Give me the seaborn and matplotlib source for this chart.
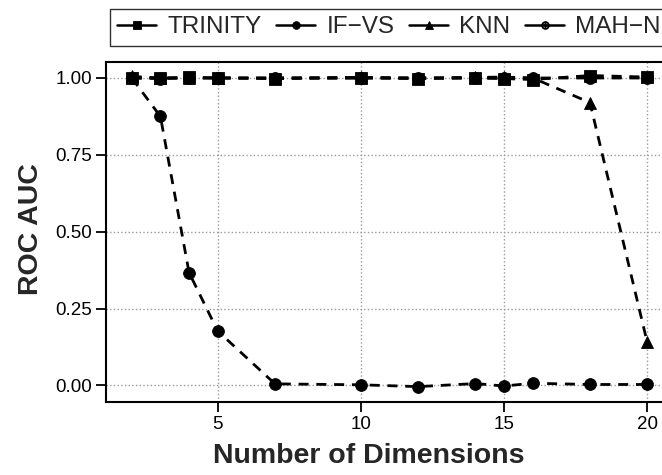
import matplotlib
matplotlib.use("Agg")
import matplotlib.pyplot as plt
import seaborn as sns
import pandas as pd
import numpy as np

# ---- data ----
dims = [2, 3, 4, 5, 7, 10, 12, 14, 15, 16, 18, 20]
methods = ["TRINITY", "IF\u2212VS", "KNN", "MAH\u2212N"]
trinity = [1.00, 1.00, 1.002, 1.00, 0.998, 1.00, 0.998, 1.00, 0.998, 0.995, 1.008, 1.003]
if_vs = [1.00, 0.875, 0.367, 0.177, 0.005, 0.002, -0.004, 0.006, -0.002, 0.007, 0.003, 0.003]
knn = [1.005, 1.00, 1.00, 1.00, 1.00, 1.002, 1.00, 1.002, 1.003, 1.00, 0.92, 0.14]
mah_n = [1.00, 0.998, 1.00, 1.00, 1.00, 1.00, 1.00, 1.00, 1.00, 1.00, 1.00, 1.00]
y_ticks = [0.00, 0.25, 0.50, 0.75, 1.00]
x_ticks = [5, 10, 15, 20]

series = {methods[0]: trinity, methods[1]: if_vs, methods[2]: knn, methods[3]: mah_n}
df = pd.DataFrame(
    [(d, v, m) for m, vals in series.items() for d, v in zip(dims, vals)],
    columns=["dim", "auc", "method"],
)

sns.set_theme(style="white")
plt.rcParams["font.family"] = ["Liberation Sans", "DejaVu Sans"]
plt.rcParams["mathtext.fontset"] = "dejavusans"

fig = plt.figure(figsize=(6.62, 4.75), dpi=100)
ax = fig.add_axes([106 / 662, (475 - 402) / 475, (673 - 106) / 662, (402 - 62) / 475])

markers = {methods[0]: "s", methods[1]: "o", methods[2]: "^", methods[3]: r"$\oplus$"}
dashes = {m: (3.6, 2.8) for m in methods}
palette = {m: "black" for m in methods}

sns.lineplot(
    data=df, x="dim", y="auc", hue="method", style="method",
    hue_order=methods, style_order=methods,
    markers=markers, dashes=dashes, palette=palette,
    linewidth=2.0, markersize=8.5, markeredgecolor="black", markeredgewidth=0.6,
    ax=ax,
)

ax.set_xlim(1.1, 20.9)
ax.set_ylim(-0.054, 1.052)
ax.set_xticks(x_ticks)
ax.set_yticks(y_ticks)
ax.set_yticklabels([f"{t:.2f}" for t in y_ticks])

ax.grid(True, color="#9a9a9a", linestyle=":", linewidth=1.0)
ax.set_axisbelow(True)
for s in ax.spines.values():
    s.set_visible(True)
    s.set_color("black")
    s.set_linewidth(1.5)

ax.tick_params(axis="both", which="major", direction="out", length=7, width=1.3,
               color="black", labelsize=13.5, labelcolor="black", pad=3,
               bottom=True, left=True)

ax.set_xlabel("Number of Dimensions", fontsize=20.5, fontweight="bold")
ax.set_ylabel("ROC AUC", fontsize=20.5, fontweight="bold")
ax.xaxis.set_label_coords((369 - 106) / 567, -0.12)
ax.yaxis.set_label_coords(-0.11, 0.51)

handles, labels = ax.get_legend_handles_labels()
ax.get_legend().remove()
leg = fig.legend(
    handles, labels, loc="upper left", bbox_to_anchor=(110 / 662, 1 - 9 / 475),
    ncol=4, frameon=True, fancybox=False, fontsize=17.5,
    handlelength=1.6, handletextpad=0.45, columnspacing=0.62,
    borderpad=0.3, borderaxespad=0.0, markerscale=0.65,
)
leg.get_frame().set_edgecolor("black")
leg.get_frame().set_linewidth(1.0)
for lh in leg.get_lines():
    lh.set_linestyle("-")
    lh.set_linewidth(1.8)

fig.savefig("out.png", dpi=100)
